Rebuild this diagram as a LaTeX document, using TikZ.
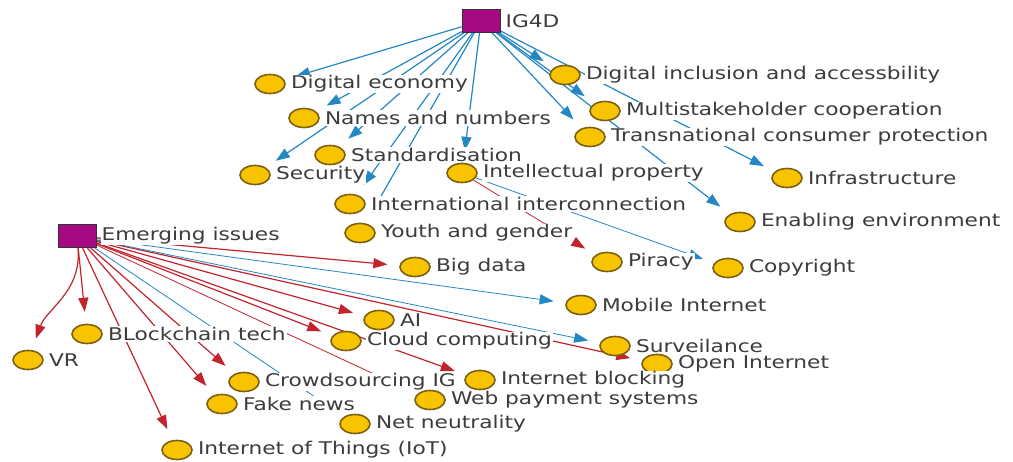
\documentclass[tikz,border=0pt]{standalone}
\usepackage{fontspec}
\usepackage{tikz}
\usetikzlibrary{positioning, shapes.geometric, arrows.meta}
\newfontfamily\graphfont[FakeStretch=1.24]{DejaVu Sans}
\pgfdeclarelayer{bg}
\pgfsetlayers{bg,main}
\definecolor{issuefill}{RGB}{248,196,0}
\definecolor{issuedraw}{RGB}{125,95,20}
\definecolor{hubfill}{RGB}{165,10,130}
\definecolor{edgeblue}{RGB}{35,135,195}
\definecolor{edgered}{RGB}{195,35,45}
\definecolor{labelgray}{RGB}{60,60,60}

\tikzset{
  hub/.style={rectangle, draw=black!80, fill=hubfill, thick, minimum width=38pt, minimum height=23pt},
  issue/.style={ellipse, draw=issuedraw, fill=issuefill, line width=1.6pt, minimum width=30pt, minimum height=19pt, inner sep=0pt},
  lbl/.style={text=labelgray, fill=white, inner sep=1pt, font=\graphfont\fontsize{17.5}{20}\selectfont},
  blueedge/.style={draw=edgeblue, line width=1.2pt, ->, shorten >=12pt},
  rededge/.style={draw=edgered, line width=1.2pt, ->, shorten >=12pt},
  thinedge/.style={line width=0.8pt}
}

\begin{document}
\begin{tikzpicture}[x=1pt, y=-1pt, >={Triangle[length=14pt,width=10pt]}]
\useasboundingbox (0,0) rectangle (1013,462);

% IG4D
\node [hub] (ig4d) at (481,21) {};
\node [lbl, right=4pt of ig4d] (ig4d_l) {IG4D};

% IG4D, left branch
\node [issue] (dig) at (270,84) {};
\node [lbl, right=4pt of dig] (dig_l) {Digital economy};
\node [issue] (names) at (304,118) {};
\node [lbl, right=4pt of names] (names_l) {Names and numbers};
\node [issue] (std) at (330,155) {};
\node [lbl, right=4pt of std] (std_l) {Standardisation};
\node [issue] (sec) at (255,175) {};
\node [lbl, right=4pt of sec] (sec_l) {Security};
\node [issue] (ip) at (462,173) {};
\node [lbl, right=4pt of ip] (ip_l) {Intellectual property};
\node [issue] (intl) at (350,204) {};
\node [lbl, right=4pt of intl] (intl_l) {International interconnection};
\node [issue] (youth) at (360,233) {};
\node [lbl, right=4pt of youth] (youth_l) {Youth and gender};

% IG4D, right branch
\node [issue] (incl) at (565,75) {};
\node [lbl, right=4pt of incl] (incl_l) {Digital inclusion and accessbility};
\node [issue] (multi) at (605,111) {};
\node [lbl, right=4pt of multi] (multi_l) {Multistakeholder cooperation};
\node [issue] (trans) at (590,137) {};
\node [lbl, right=4pt of trans] (trans_l) {Transnational consumer protection};
\node [issue] (infra) at (787,178) {};
\node [lbl, right=4pt of infra] (infra_l) {Infrastructure};
\node [issue] (enab) at (740,222) {};
\node [lbl, right=4pt of enab] (enab_l) {Enabling environment};

% IP children
\node [issue] (piracy) at (607,262) {};
\node [lbl, right=4pt of piracy] (piracy_l) {Piracy};
\node [issue] (copy) at (728,268) {};
\node [lbl, right=4pt of copy] (copy_l) {Copyright};

% EMERGING ISSUES
\node [hub] (emerg) at (77,236) {};
\node [lbl, right=4pt of emerg] (emerg_l) {Emerging issues};

\node [issue] (bigdata) at (415,267) {};
\node [lbl, right=4pt of bigdata] (bigdata_l) {Big data};
\node [issue] (mobile) at (581,305) {};
\node [lbl, right=4pt of mobile] (mobile_l) {Mobile Internet};
\node [issue] (ai) at (379,320) {};
\node [lbl, right=4pt of ai] (ai_l) {AI};
\node [issue] (block) at (87,334) {};
\node [lbl, right=4pt of block] (block_l) {BLockchain tech};
\node [issue] (cloud) at (346,341) {};
\node [lbl, right=4pt of cloud] (cloud_l) {Cloud computing};
\node [issue] (surv) at (615,346) {};
\node [lbl, right=4pt of surv] (surv_l) {Surveilance};
\node [issue] (open) at (657,364) {};
\node [lbl, right=4pt of open] (open_l) {Open Internet};
\node [issue] (vr) at (28,360) {};
\node [lbl, right=4pt of vr] (vr_l) {VR};
\node [issue] (iblock) at (480,380) {};
\node [lbl, right=4pt of iblock] (iblock_l) {Internet blocking};
\node [issue] (crowd) at (244,382) {};
\node [lbl, right=4pt of crowd] (crowd_l) {Crowdsourcing IG};
\node [issue] (fake) at (222,404) {};
\node [lbl, right=4pt of fake] (fake_l) {Fake news};
\node [issue] (web) at (430,400) {};
\node [lbl, right=4pt of web] (web_l) {Web payment systems};
\node [issue] (net) at (355,424) {};
\node [lbl, right=4pt of net] (net_l) {Net neutrality};
\node [issue] (iot) at (177,450) {};
\node [lbl, right=4pt of iot] (iot_l) {Internet of Things (IoT)};

\begin{pgfonlayer}{bg}
% IG4D edges
\draw [blueedge] (ig4d) -- (dig);
\draw [blueedge] (ig4d) -- (names);
\draw [blueedge] (ig4d) -- (std);
\draw [blueedge] (ig4d) -- (sec);
\draw [blueedge] (ig4d) -- (intl);
\draw [blueedge] (ig4d) -- (youth);
\draw [blueedge] (ig4d) -- (ip);
\draw [blueedge] (ig4d) -- (incl);
\draw [blueedge] (ig4d) -- (multi);
\draw [blueedge] (ig4d) -- (trans);
\draw [blueedge] (ig4d) -- (infra);
\draw [blueedge] (ig4d) -- (enab);
\draw [rededge, thinedge] (ip) -- (piracy);
\draw [blueedge, thinedge] (ip) -- (copy);

% Emerging issues edges
\draw [rededge] (emerg) to[out=-85, in=70] (vr);
\draw [rededge] (emerg) -- (block);
\draw [rededge] (emerg) -- (iot);
\draw [rededge] (emerg) -- (fake);
\draw [rededge] (emerg) -- (crowd);
\draw [rededge] (emerg) -- (cloud);
\draw [rededge] (emerg) -- (ai);
\draw [rededge] (emerg) -- (bigdata);
\draw [rededge] (emerg) -- (iblock);
\draw [rededge] (emerg) -- (open);
\draw [rededge, thinedge] (emerg) -- (web);
\draw [blueedge, thinedge] (emerg) -- (net);
\draw [blueedge, thinedge] (emerg) -- (mobile);
\draw [blueedge, thinedge] (emerg) -- (surv);
\end{pgfonlayer}
\end{tikzpicture}
\end{document}
